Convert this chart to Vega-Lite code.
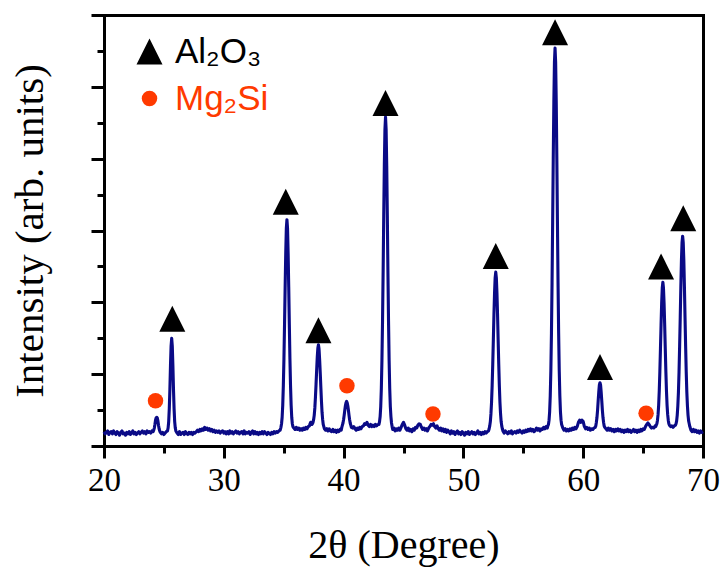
{
  "$schema": "https://vega.github.io/schema/vega-lite/v6.json",
  "width": 599,
  "height": 431,
  "autosize": {"type": "none"},
  "padding": {"left": 104, "top": 15, "right": 25, "bottom": 129},
  "background": "white",
  "config": {
    "view": {"stroke": null},
    "axis": {"grid": false, "domainColor": "black", "tickColor": "black", "labelColor": "black", "titleColor": "black", "domainWidth": 3, "tickWidth": 3, "domainCap": "square", "titleFontWeight": "normal", "labelFont": "Liberation Serif", "titleFont": "Liberation Serif"}
  },
  "datasets": {
    "xrd": [
{"x":20.0,"y":0.2},{"x":20.1,"y":0.17},{"x":20.2,"y":0.19},{"x":20.3,"y":0.21},{"x":20.4,"y":0.16},{"x":20.5,"y":0.19},{"x":20.6,"y":0.2},{"x":20.7,"y":0.17},{"x":20.8,"y":0.21},{"x":20.9,"y":0.18},
{"x":21.0,"y":0.16},{"x":21.1,"y":0.2},{"x":21.2,"y":0.18},{"x":21.3,"y":0.15},{"x":21.4,"y":0.19},{"x":21.5,"y":0.21},{"x":21.6,"y":0.17},{"x":21.7,"y":0.18},{"x":21.8,"y":0.15},{"x":21.9,"y":0.19},
{"x":22.0,"y":0.17},{"x":22.1,"y":0.2},{"x":22.2,"y":0.16},{"x":22.3,"y":0.18},{"x":22.4,"y":0.21},{"x":22.5,"y":0.17},{"x":22.6,"y":0.19},{"x":22.7,"y":0.16},{"x":22.8,"y":0.18},{"x":22.9,"y":0.2},
{"x":23.0,"y":0.17},{"x":23.1,"y":0.19},{"x":23.2,"y":0.21},{"x":23.3,"y":0.18},{"x":23.4,"y":0.2},{"x":23.5,"y":0.17},{"x":23.6,"y":0.21},{"x":23.7,"y":0.19},{"x":23.8,"y":0.2},{"x":23.9,"y":0.18},
{"x":24.0,"y":0.21},{"x":24.1,"y":0.2},{"x":24.15,"y":0.22},{"x":24.2,"y":0.25},{"x":24.25,"y":0.3},{"x":24.3,"y":0.36},{"x":24.35,"y":0.39},{"x":24.4,"y":0.4},{"x":24.45,"y":0.39},{"x":24.5,"y":0.35},{"x":24.55,"y":0.29},{"x":24.6,"y":0.24},{"x":24.65,"y":0.21},{"x":24.7,"y":0.19},{"x":24.8,"y":0.17},{"x":24.9,"y":0.19},
{"x":25.0,"y":0.16},{"x":25.1,"y":0.18},{"x":25.2,"y":0.2},{"x":25.3,"y":0.21},{"x":25.35,"y":0.25},{"x":25.4,"y":0.34},{"x":25.45,"y":0.52},{"x":25.5,"y":0.79},{"x":25.55,"y":1.12},{"x":25.6,"y":1.39},{"x":25.65,"y":1.5},{"x":25.7,"y":1.39},{"x":25.75,"y":1.12},{"x":25.8,"y":0.79},{"x":25.85,"y":0.52},{"x":25.9,"y":0.34},{"x":25.95,"y":0.25},
{"x":26.0,"y":0.21},{"x":26.1,"y":0.18},{"x":26.2,"y":0.16},{"x":26.3,"y":0.2},{"x":26.4,"y":0.16},{"x":26.5,"y":0.18},{"x":26.6,"y":0.19},{"x":26.7,"y":0.16},{"x":26.8,"y":0.2},{"x":26.9,"y":0.17},
{"x":27.0,"y":0.16},{"x":27.1,"y":0.19},{"x":27.2,"y":0.17},{"x":27.3,"y":0.19},{"x":27.4,"y":0.16},{"x":27.5,"y":0.19},{"x":27.6,"y":0.18},{"x":27.7,"y":0.2},{"x":27.8,"y":0.22},{"x":27.9,"y":0.2},
{"x":28.0,"y":0.23},{"x":28.1,"y":0.21},{"x":28.2,"y":0.24},{"x":28.3,"y":0.22},{"x":28.4,"y":0.26},{"x":28.5,"y":0.23},{"x":28.6,"y":0.25},{"x":28.7,"y":0.22},{"x":28.8,"y":0.24},{"x":28.9,"y":0.21},
{"x":29.0,"y":0.23},{"x":29.1,"y":0.2},{"x":29.2,"y":0.22},{"x":29.3,"y":0.19},{"x":29.4,"y":0.21},{"x":29.5,"y":0.19},{"x":29.6,"y":0.21},{"x":29.7,"y":0.18},{"x":29.8,"y":0.2},{"x":29.9,"y":0.21},
{"x":30.0,"y":0.18},{"x":30.1,"y":0.2},{"x":30.2,"y":0.17},{"x":30.3,"y":0.2},{"x":30.4,"y":0.17},{"x":30.5,"y":0.21},{"x":30.6,"y":0.18},{"x":30.7,"y":0.2},{"x":30.8,"y":0.17},{"x":30.9,"y":0.19},
{"x":31.0,"y":0.21},{"x":31.1,"y":0.18},{"x":31.2,"y":0.2},{"x":31.3,"y":0.17},{"x":31.4,"y":0.19},{"x":31.5,"y":0.2},{"x":31.6,"y":0.17},{"x":31.7,"y":0.21},{"x":31.8,"y":0.17},{"x":31.9,"y":0.19},
{"x":32.0,"y":0.18},{"x":32.1,"y":0.2},{"x":32.2,"y":0.16},{"x":32.3,"y":0.19},{"x":32.4,"y":0.21},{"x":32.5,"y":0.17},{"x":32.6,"y":0.2},{"x":32.7,"y":0.17},{"x":32.8,"y":0.19},{"x":32.9,"y":0.16},
{"x":33.0,"y":0.19},{"x":33.1,"y":0.17},{"x":33.2,"y":0.2},{"x":33.3,"y":0.17},{"x":33.4,"y":0.2},{"x":33.5,"y":0.18},{"x":33.6,"y":0.16},{"x":33.7,"y":0.19},{"x":33.8,"y":0.17},{"x":33.9,"y":0.16},
{"x":34.0,"y":0.19},{"x":34.1,"y":0.17},{"x":34.2,"y":0.2},{"x":34.3,"y":0.18},{"x":34.4,"y":0.2},{"x":34.5,"y":0.19},{"x":34.6,"y":0.21},{"x":34.7,"y":0.22},
{"x":34.77,"y":0.26},{"x":34.82,"y":0.31},{"x":34.87,"y":0.4},{"x":34.92,"y":0.57},{"x":34.97,"y":0.84},{"x":35.02,"y":1.21},{"x":35.07,"y":1.69},{"x":35.12,"y":2.21},{"x":35.17,"y":2.68},{"x":35.22,"y":3.03},{"x":35.27,"y":3.15},{"x":35.32,"y":3.03},{"x":35.37,"y":2.68},{"x":35.42,"y":2.21},{"x":35.47,"y":1.69},{"x":35.52,"y":1.21},{"x":35.57,"y":0.84},{"x":35.62,"y":0.57},{"x":35.67,"y":0.4},{"x":35.72,"y":0.31},{"x":35.77,"y":0.27},
{"x":35.85,"y":0.25},{"x":35.95,"y":0.23},{"x":36.05,"y":0.26},{"x":36.15,"y":0.23},{"x":36.25,"y":0.25},{"x":36.35,"y":0.22},{"x":36.45,"y":0.24},{"x":36.55,"y":0.22},{"x":36.65,"y":0.25},{"x":36.75,"y":0.23},{"x":36.85,"y":0.26},{"x":36.95,"y":0.24},{"x":37.05,"y":0.27},{"x":37.15,"y":0.28},
{"x":37.2,"y":0.31},{"x":37.25,"y":0.33},{"x":37.3,"y":0.31},{"x":37.35,"y":0.3},{"x":37.4,"y":0.31},{"x":37.45,"y":0.33},{"x":37.5,"y":0.37},{"x":37.55,"y":0.43},{"x":37.6,"y":0.53},{"x":37.65,"y":0.68},{"x":37.7,"y":0.86},{"x":37.75,"y":1.05},{"x":37.8,"y":1.23},{"x":37.85,"y":1.36},{"x":37.9,"y":1.41},{"x":37.95,"y":1.35},{"x":38.0,"y":1.2},{"x":38.05,"y":1.02},{"x":38.1,"y":0.82},{"x":38.15,"y":0.63},{"x":38.2,"y":0.47},{"x":38.25,"y":0.37},{"x":38.3,"y":0.3},{"x":38.35,"y":0.27},{"x":38.4,"y":0.24},
{"x":38.5,"y":0.22},{"x":38.6,"y":0.24},{"x":38.7,"y":0.21},{"x":38.8,"y":0.24},{"x":38.9,"y":0.21},{"x":39.0,"y":0.2},{"x":39.1,"y":0.23},{"x":39.2,"y":0.2},{"x":39.3,"y":0.22},{"x":39.4,"y":0.19},{"x":39.5,"y":0.22},{"x":39.6,"y":0.2},{"x":39.7,"y":0.23},{"x":39.8,"y":0.22},
{"x":39.85,"y":0.26},{"x":39.9,"y":0.29},{"x":39.95,"y":0.32},{"x":40.0,"y":0.37},{"x":40.05,"y":0.43},{"x":40.1,"y":0.5},{"x":40.15,"y":0.56},{"x":40.2,"y":0.6},{"x":40.25,"y":0.62},{"x":40.3,"y":0.6},{"x":40.35,"y":0.56},{"x":40.4,"y":0.5},{"x":40.45,"y":0.43},{"x":40.5,"y":0.37},{"x":40.55,"y":0.32},{"x":40.6,"y":0.29},{"x":40.65,"y":0.26},
{"x":40.75,"y":0.25},{"x":40.85,"y":0.27},{"x":40.95,"y":0.24},{"x":41.05,"y":0.22},{"x":41.15,"y":0.25},{"x":41.25,"y":0.23},{"x":41.35,"y":0.26},{"x":41.45,"y":0.24},{"x":41.55,"y":0.27},{"x":41.65,"y":0.28},{"x":41.75,"y":0.31},{"x":41.85,"y":0.3},{"x":41.95,"y":0.33},{"x":42.05,"y":0.29},{"x":42.15,"y":0.27},{"x":42.25,"y":0.3},{"x":42.35,"y":0.27},{"x":42.45,"y":0.29},{"x":42.55,"y":0.27},{"x":42.65,"y":0.3},{"x":42.75,"y":0.28},{"x":42.85,"y":0.3},
{"x":42.95,"y":0.3},{"x":43.0,"y":0.34},{"x":43.05,"y":0.41},{"x":43.1,"y":0.55},{"x":43.15,"y":0.8},{"x":43.2,"y":1.19},{"x":43.25,"y":1.74},{"x":43.3,"y":2.43},{"x":43.35,"y":3.2},{"x":43.4,"y":3.9},{"x":43.45,"y":4.4},{"x":43.5,"y":4.58},{"x":43.55,"y":4.4},{"x":43.6,"y":3.9},{"x":43.65,"y":3.2},{"x":43.7,"y":2.43},{"x":43.75,"y":1.74},{"x":43.8,"y":1.19},{"x":43.85,"y":0.8},{"x":43.9,"y":0.55},{"x":43.95,"y":0.41},{"x":44.0,"y":0.32},{"x":44.05,"y":0.27},
{"x":44.1,"y":0.23},{"x":44.2,"y":0.25},{"x":44.3,"y":0.21},{"x":44.4,"y":0.24},{"x":44.5,"y":0.22},{"x":44.6,"y":0.25},{"x":44.7,"y":0.22},{"x":44.8,"y":0.26},{"x":44.9,"y":0.3},
{"x":45.0,"y":0.33},{"x":45.1,"y":0.29},{"x":45.2,"y":0.24},{"x":45.3,"y":0.22},{"x":45.4,"y":0.25},{"x":45.5,"y":0.21},{"x":45.6,"y":0.23},{"x":45.7,"y":0.2},{"x":45.8,"y":0.24},{"x":45.9,"y":0.22},
{"x":46.0,"y":0.26},{"x":46.1,"y":0.25},{"x":46.2,"y":0.29},{"x":46.3,"y":0.31},{"x":46.4,"y":0.3},{"x":46.5,"y":0.26},{"x":46.6,"y":0.23},{"x":46.7,"y":0.25},{"x":46.8,"y":0.22},{"x":46.9,"y":0.24},
{"x":47.0,"y":0.21},{"x":47.1,"y":0.25},{"x":47.2,"y":0.27},{"x":47.3,"y":0.3},{"x":47.4,"y":0.29},{"x":47.5,"y":0.31},{"x":47.6,"y":0.27},{"x":47.7,"y":0.25},{"x":47.8,"y":0.28},{"x":47.9,"y":0.24},
{"x":48.0,"y":0.22},{"x":48.1,"y":0.25},{"x":48.2,"y":0.21},{"x":48.3,"y":0.24},{"x":48.4,"y":0.2},{"x":48.5,"y":0.23},{"x":48.6,"y":0.19},{"x":48.7,"y":0.22},{"x":48.8,"y":0.2},{"x":48.9,"y":0.17},
{"x":49.0,"y":0.21},{"x":49.1,"y":0.18},{"x":49.2,"y":0.2},{"x":49.3,"y":0.16},{"x":49.4,"y":0.19},{"x":49.5,"y":0.21},{"x":49.6,"y":0.17},{"x":49.7,"y":0.19},{"x":49.8,"y":0.16},{"x":49.9,"y":0.2},
{"x":50.0,"y":0.18},{"x":50.1,"y":0.15},{"x":50.2,"y":0.19},{"x":50.3,"y":0.17},{"x":50.4,"y":0.2},{"x":50.5,"y":0.16},{"x":50.6,"y":0.18},{"x":50.7,"y":0.2},{"x":50.8,"y":0.17},{"x":50.9,"y":0.19},
{"x":51.0,"y":0.16},{"x":51.1,"y":0.18},{"x":51.2,"y":0.21},{"x":51.3,"y":0.17},{"x":51.4,"y":0.19},{"x":51.5,"y":0.16},{"x":51.6,"y":0.19},{"x":51.7,"y":0.17},{"x":51.8,"y":0.2},{"x":51.9,"y":0.18},
{"x":52.0,"y":0.2},{"x":52.1,"y":0.21},{"x":52.15,"y":0.24},{"x":52.2,"y":0.28},{"x":52.25,"y":0.34},{"x":52.3,"y":0.45},{"x":52.35,"y":0.61},{"x":52.4,"y":0.84},{"x":52.45,"y":1.14},{"x":52.5,"y":1.48},{"x":52.55,"y":1.83},{"x":52.6,"y":2.13},{"x":52.65,"y":2.34},{"x":52.7,"y":2.42},{"x":52.75,"y":2.34},{"x":52.8,"y":2.13},{"x":52.85,"y":1.83},{"x":52.9,"y":1.48},{"x":52.95,"y":1.14},{"x":53.0,"y":0.84},{"x":53.05,"y":0.61},{"x":53.1,"y":0.45},{"x":53.15,"y":0.34},{"x":53.2,"y":0.28},{"x":53.25,"y":0.24},
{"x":53.3,"y":0.21},{"x":53.4,"y":0.18},{"x":53.5,"y":0.21},{"x":53.6,"y":0.19},{"x":53.7,"y":0.17},{"x":53.8,"y":0.2},{"x":53.9,"y":0.18},
{"x":54.0,"y":0.21},{"x":54.1,"y":0.17},{"x":54.2,"y":0.19},{"x":54.3,"y":0.2},{"x":54.4,"y":0.18},{"x":54.5,"y":0.21},{"x":54.6,"y":0.19},{"x":54.7,"y":0.22},{"x":54.8,"y":0.2},{"x":54.9,"y":0.18},
{"x":55.0,"y":0.21},{"x":55.1,"y":0.19},{"x":55.2,"y":0.22},{"x":55.3,"y":0.2},{"x":55.4,"y":0.23},{"x":55.5,"y":0.21},{"x":55.6,"y":0.24},{"x":55.7,"y":0.21},{"x":55.8,"y":0.23},{"x":55.9,"y":0.2},
{"x":56.0,"y":0.22},{"x":56.1,"y":0.25},{"x":56.2,"y":0.22},{"x":56.3,"y":0.24},{"x":56.4,"y":0.21},{"x":56.5,"y":0.24},{"x":56.6,"y":0.23},{"x":56.7,"y":0.26},{"x":56.8,"y":0.24},{"x":56.9,"y":0.27},
{"x":57.0,"y":0.25},{"x":57.05,"y":0.28},{"x":57.1,"y":0.3},{"x":57.15,"y":0.36},{"x":57.2,"y":0.48},{"x":57.25,"y":0.7},{"x":57.3,"y":1.05},{"x":57.35,"y":1.57},{"x":57.4,"y":2.27},{"x":57.45,"y":3.11},{"x":57.5,"y":3.99},{"x":57.55,"y":4.78},{"x":57.6,"y":5.34},{"x":57.65,"y":5.54},{"x":57.7,"y":5.34},{"x":57.75,"y":4.78},{"x":57.8,"y":3.99},{"x":57.85,"y":3.11},{"x":57.9,"y":2.27},{"x":57.95,"y":1.57},{"x":58.0,"y":1.05},{"x":58.05,"y":0.7},{"x":58.1,"y":0.48},{"x":58.15,"y":0.36},{"x":58.2,"y":0.3},
{"x":58.3,"y":0.25},{"x":58.4,"y":0.22},{"x":58.5,"y":0.24},{"x":58.6,"y":0.21},{"x":58.7,"y":0.23},{"x":58.8,"y":0.21},{"x":58.9,"y":0.24},
{"x":59.0,"y":0.22},{"x":59.1,"y":0.25},{"x":59.2,"y":0.23},{"x":59.3,"y":0.26},{"x":59.4,"y":0.24},{"x":59.5,"y":0.27},{"x":59.6,"y":0.33},{"x":59.7,"y":0.36},{"x":59.8,"y":0.33},{"x":59.9,"y":0.36},
{"x":60.0,"y":0.34},{"x":60.1,"y":0.27},{"x":60.2,"y":0.24},{"x":60.3,"y":0.26},{"x":60.4,"y":0.23},{"x":60.5,"y":0.25},{"x":60.6,"y":0.22},{"x":60.7,"y":0.24},{"x":60.8,"y":0.23},{"x":60.9,"y":0.25},
{"x":61.0,"y":0.26},{"x":61.05,"y":0.28},{"x":61.1,"y":0.33},{"x":61.15,"y":0.4},{"x":61.2,"y":0.5},{"x":61.25,"y":0.63},{"x":61.3,"y":0.75},{"x":61.35,"y":0.85},{"x":61.4,"y":0.88},{"x":61.45,"y":0.85},{"x":61.5,"y":0.75},{"x":61.55,"y":0.63},{"x":61.6,"y":0.5},{"x":61.65,"y":0.4},{"x":61.7,"y":0.33},{"x":61.75,"y":0.28},{"x":61.8,"y":0.26},{"x":61.9,"y":0.24},
{"x":62.0,"y":0.22},{"x":62.1,"y":0.25},{"x":62.2,"y":0.22},{"x":62.3,"y":0.24},{"x":62.4,"y":0.21},{"x":62.5,"y":0.23},{"x":62.6,"y":0.2},{"x":62.7,"y":0.23},{"x":62.8,"y":0.21},{"x":62.9,"y":0.24},
{"x":63.0,"y":0.21},{"x":63.1,"y":0.23},{"x":63.2,"y":0.2},{"x":63.3,"y":0.22},{"x":63.4,"y":0.19},{"x":63.5,"y":0.22},{"x":63.6,"y":0.2},{"x":63.7,"y":0.23},{"x":63.8,"y":0.2},{"x":63.9,"y":0.22},
{"x":64.0,"y":0.19},{"x":64.1,"y":0.21},{"x":64.2,"y":0.23},{"x":64.3,"y":0.2},{"x":64.4,"y":0.22},{"x":64.5,"y":0.19},{"x":64.6,"y":0.22},{"x":64.7,"y":0.2},{"x":64.8,"y":0.23},{"x":64.9,"y":0.21},
{"x":65.0,"y":0.24},{"x":65.1,"y":0.23},{"x":65.2,"y":0.27},{"x":65.3,"y":0.3},{"x":65.4,"y":0.32},{"x":65.5,"y":0.3},{"x":65.6,"y":0.27},{"x":65.7,"y":0.25},{"x":65.8,"y":0.26},{"x":65.9,"y":0.25},
{"x":66.0,"y":0.28},{"x":66.05,"y":0.27},{"x":66.1,"y":0.29},{"x":66.15,"y":0.31},{"x":66.2,"y":0.36},{"x":66.25,"y":0.44},{"x":66.3,"y":0.57},{"x":66.35,"y":0.77},{"x":66.4,"y":1.04},{"x":66.45,"y":1.36},{"x":66.5,"y":1.69},{"x":66.55,"y":1.99},{"x":66.6,"y":2.2},{"x":66.65,"y":2.28},{"x":66.7,"y":2.2},{"x":66.75,"y":1.99},{"x":66.8,"y":1.69},{"x":66.85,"y":1.36},{"x":66.9,"y":1.04},{"x":66.95,"y":0.77},{"x":67.0,"y":0.57},{"x":67.05,"y":0.44},{"x":67.1,"y":0.36},{"x":67.15,"y":0.31},{"x":67.2,"y":0.29},
{"x":67.3,"y":0.27},{"x":67.4,"y":0.28},{"x":67.5,"y":0.26},{"x":67.6,"y":0.28},{"x":67.7,"y":0.29},{"x":67.75,"y":0.31},{"x":67.8,"y":0.35},{"x":67.85,"y":0.43},{"x":67.9,"y":0.56},{"x":67.95,"y":0.75},{"x":68.0,"y":1.03},{"x":68.05,"y":1.39},{"x":68.1,"y":1.79},{"x":68.15,"y":2.21},{"x":68.2,"y":2.58},{"x":68.25,"y":2.83},{"x":68.3,"y":2.92},{"x":68.35,"y":2.83},{"x":68.4,"y":2.58},{"x":68.45,"y":2.21},{"x":68.5,"y":1.79},{"x":68.55,"y":1.39},{"x":68.6,"y":1.03},{"x":68.65,"y":0.75},{"x":68.7,"y":0.56},{"x":68.75,"y":0.43},{"x":68.8,"y":0.35},{"x":68.85,"y":0.31},{"x":68.9,"y":0.27},
{"x":69.0,"y":0.22},{"x":69.1,"y":0.2},{"x":69.2,"y":0.23},{"x":69.3,"y":0.2},{"x":69.4,"y":0.22},{"x":69.5,"y":0.19},{"x":69.6,"y":0.21},{"x":69.7,"y":0.18},{"x":69.8,"y":0.21},{"x":69.9,"y":0.19},{"x":70.0,"y":0.2}
    ],
    "markers": [
      {"x": 25.7, "y": 1.77, "phase": "Al₂O₃"},
      {"x": 35.17, "y": 3.4, "phase": "Al₂O₃"},
      {"x": 37.9, "y": 1.61, "phase": "Al₂O₃"},
      {"x": 43.5, "y": 4.775, "phase": "Al₂O₃"},
      {"x": 52.7, "y": 2.645, "phase": "Al₂O₃"},
      {"x": 57.65, "y": 5.76, "phase": "Al₂O₃"},
      {"x": 61.4, "y": 1.1, "phase": "Al₂O₃"},
      {"x": 66.5, "y": 2.5, "phase": "Al₂O₃"},
      {"x": 68.35, "y": 3.17, "phase": "Al₂O₃"},
      {"x": 24.3, "y": 0.63, "phase": "Mg₂Si"},
      {"x": 40.28, "y": 0.84, "phase": "Mg₂Si"},
      {"x": 47.46, "y": 0.445, "phase": "Mg₂Si"},
      {"x": 65.25, "y": 0.455, "phase": "Mg₂Si"}
    ]
  },
  "layer": [
    {
      "data": {"name": "xrd"},
      "mark": {"type": "line", "color": "#0a0a86", "strokeWidth": 3.1, "strokeJoin": "round"},
      "encoding": {
        "x": {"field": "x", "type": "quantitative", "scale": {"domain": [20, 70], "nice": false, "zero": false},
          "axis": {"orient": "bottom", "values": [20, 30, 40, 50, 60, 70], "tickSize": 12, "labelFontSize": 33, "labelPadding": 6, "labelFlush": false, "title": "2θ (Degree)", "titleFontSize": 40, "titlePadding": 28}},
        "y": {"field": "y", "type": "quantitative", "scale": {"domain": [0, 6], "nice": false, "zero": false},
          "axis": {"orient": "left", "values": [0, 1, 2, 3, 4, 5, 6], "tickSize": 13, "labels": false, "title": "Intensity (arb. units)", "titleFontSize": 41, "titlePadding": 38}}
      }
    },
    {
      "data": {"name": "markers"},
      "transform": [{"filter": "datum.phase === 'Al₂O₃'"}],
      "mark": {"type": "point", "filled": true, "opacity": 1, "strokeWidth": 0},
      "encoding": {
        "x": {"field": "x", "type": "quantitative", "axis": {"orient": "bottom", "values": [25, 35, 45, 55, 65], "tickSize": 7, "labels": false, "domain": false, "title": null}},
        "y": {"field": "y", "type": "quantitative", "axis": {"orient": "left", "values": [0.5, 1.5, 2.5, 3.5, 4.5, 5.5], "tickSize": 7, "labels": false, "domain": false, "title": null}},
        "color": {"field": "phase", "type": "nominal", "scale": {"domain": ["Al₂O₃", "Mg₂Si"], "range": ["#000000", "#ff3a00"]},
          "legend": {"orient": "none", "legendX": 28, "legendY": 19, "title": null, "padding": 0, "labelFont": "Liberation Sans", "labelFontSize": 35, "labelOffset": 8, "rowPadding": 11, "symbolStrokeWidth": 0,
            "labelColor": {"expr": "datum.value === 'Mg₂Si' ? '#ff3a00' : '#000000'"}}},
        "shape": {"field": "phase", "type": "nominal", "scale": {"domain": ["Al₂O₃", "Mg₂Si"], "range": ["M0,-1L1,1L-1,1Z", "circle"]}},
        "size": {"field": "phase", "type": "nominal", "scale": {"domain": ["Al₂O₃", "Mg₂Si"], "range": [676, 240]}}
      }
    },
    {
      "data": {"name": "markers"},
      "transform": [{"filter": "datum.phase === 'Mg₂Si'"}],
      "mark": {"type": "point", "filled": true, "opacity": 1, "strokeWidth": 0},
      "encoding": {
        "x": {"field": "x", "type": "quantitative", "axis": {"orient": "top", "ticks": false, "labels": false, "title": null}},
        "y": {"field": "y", "type": "quantitative", "axis": {"orient": "right", "ticks": false, "labels": false, "title": null}},
        "color": {"field": "phase", "type": "nominal"},
        "shape": {"field": "phase", "type": "nominal"},
        "size": {"field": "phase", "type": "nominal"}
      }
    }
  ],
  "resolve": {"axis": {"x": "independent", "y": "independent"}}
}
